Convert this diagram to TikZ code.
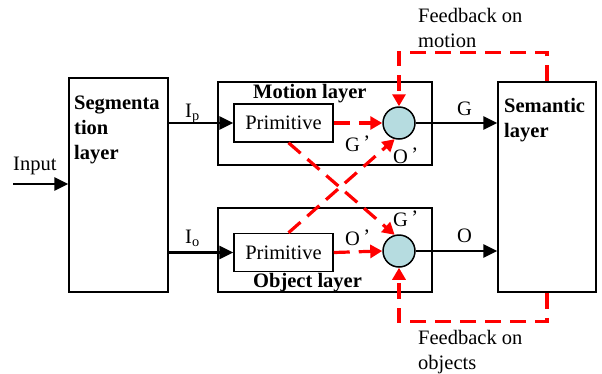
\documentclass[tikz,border=0pt]{standalone}
\usepackage{fontspec}
\setmainfont{Liberation Serif}
\usetikzlibrary{arrows.meta,positioning}
\definecolor{mergecol}{RGB}{182,220,224}
\newcommand{\figfont}{\fontsize{20.5}{25}\selectfont}
\tikzset{
    layer/.style={draw,line width=1.5pt,inner sep=0pt},
    prim/.style={draw,line width=1.5pt,minimum width=99pt,minimum height=38pt,inner sep=0pt},
    merge/.style={circle,draw,line width=1.5pt,fill=mergecol,minimum size=32pt,inner sep=0pt},
    flow/.style={-{Triangle[length=14pt,width=13pt]},line width=2.7pt},
    fb/.style={-{Triangle[length=12pt,width=13pt]},red,line width=3.2pt,dash pattern=on 16pt off 9pt},
    lbl/.style={inner sep=0pt,anchor=base west},
    title/.style={inner sep=0pt,font=\figfont\bfseries,align=left,anchor=north west},
    note/.style={inner sep=0pt,align=left,anchor=north west}
}

\begin{document}
\begin{tikzpicture}[x=1pt,y=-1pt,font=\figfont]
    \useasboundingbox (0,0) rectangle (602,373);

    % blocks
    \node[layer,minimum width=99pt,minimum height=214pt] (seg) at (118.5,185) {};
    \node[layer,minimum width=214pt,minimum height=83pt] (mot) at (325,123.5) {};
    \node[layer,minimum width=214pt,minimum height=84pt] (obj) at (325,250) {};
    \node[layer,minimum width=98pt,minimum height=210pt] (sem) at (547,187) {};
    \node[prim] (pm) at (283.5,123) {Primitive};
    \node[prim] (po) at (283.5,252.5) {Primitive};
    \node[merge] (cm) at (399,123) {};
    \node[merge] (co) at (399,251) {};

    % titles
    \node[title] (segtxt) at (74,96) {Segmenta\\tion\\layer};
    \node[title] (semtxt) at (504,98) {Semantic\\layer};
    \node[lbl,font=\figfont\bfseries] (mottxt) at (253,98) {Motion layer};
    \node[lbl,font=\figfont\bfseries] (objtxt) at (253,287) {Object layer};

    % black flow
    \coordinate (inp) at (13,184);
    \draw[flow] (inp) -- (inp -| seg.west);
    \draw[flow] (seg.east |- pm.west) -- (pm.west);
    \draw[flow] (seg.east |- po.west) -- (po.west);
    \draw[flow] (cm.east) -- (cm.east -| sem.west);
    \draw[flow] (co.east) -- (co.east -| sem.west);

    \node[lbl] (inptxt) at (13,170) {Input};
    \node[lbl] (iptxt) at (185,117) {I\textsubscript{p}};
    \node[lbl] (iotxt) at (185,243) {I\textsubscript{o}};
    \node[lbl] (gtxt) at (457,115) {G};
    \node[lbl] (otxt) at (457,242) {O};

    % red dashed links
    \draw[fb] (pm.east) -- (cm.west);
    \draw[fb] (po.east) -- (co.west);
    \draw[fb] ([xshift=5pt]pm.south) -- (co.105);
    \draw[fb] ([xshift=5pt]po.north) -- (cm.255);
    \draw[fb] (sem.north) -- ++(0,-29) -| (cm.north);
    \draw[fb] (sem.south) -- ++(0,29) -| (co.south);

    \node[lbl] (gm) at (345,151) {G\,\raisebox{2pt}{’}};
    \node[lbl] (om) at (393,163) {O\,\raisebox{2pt}{’}};
    \node[lbl] (oo) at (345,245) {O\,\raisebox{2pt}{’}};
    \node[lbl] (go) at (393,226) {G\,\raisebox{2pt}{’}};
    \node[note] (fbm) at (418,8) {Feedback on\\motion};
    \node[note] (fbo) at (418,330) {Feedback on\\objects};
\end{tikzpicture}
\end{document}
